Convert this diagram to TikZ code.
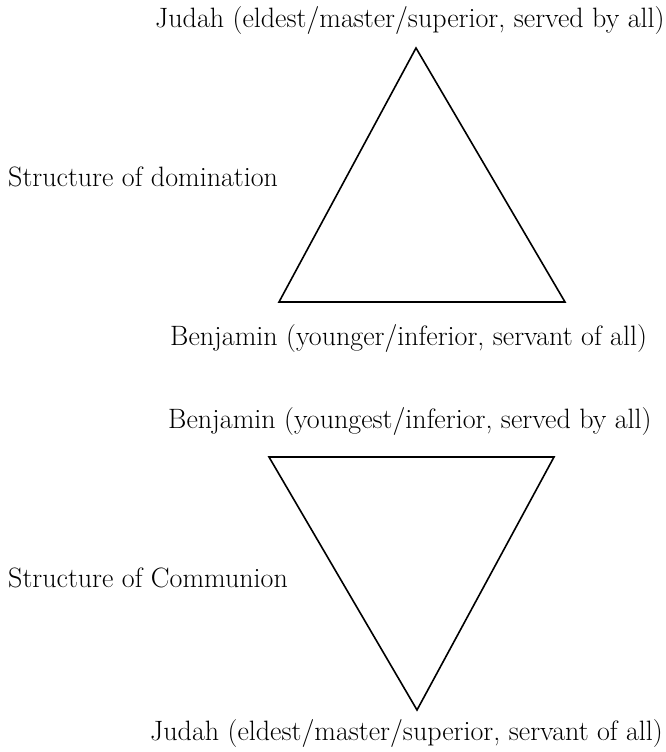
\documentclass[tikz,border=0pt]{standalone}
\usepackage{tikz}

\tikzset{
  lbl/.style={inner sep=0pt, anchor=base west, font=\fontsize{28}{32}\selectfont},
  tri/.style={line width=1.6pt, line join=miter}
}

\begin{document}
\begin{tikzpicture}[x=1pt, y=-1pt]
\useasboundingbox[fill=white] (0,0) rectangle (666,752);

% domination
\draw[tri] (416,48) -- (565,302) -- (279,302) -- cycle;
\node[lbl] (judahtop) at (155,28) {Judah (eldest/master/superior, served by all)};
\node[lbl] (domination) at (8,186) {Structure of domination};
\node[lbl] (benjamintop) at (170,345) {Benjamin (younger/inferior, servant of all)};

% communion
\draw[tri] (269,457) -- (554,457) -- (417,710) -- cycle;
\node[lbl] (benjaminbot) at (168,428) {Benjamin (youngest/inferior, served by all)};
\node[lbl] (communion) at (8,587) {Structure of Communion};
\node[lbl] (judahbot) at (150,740) {Judah (eldest/master/superior, servant of all)};
\end{tikzpicture}
\end{document}
